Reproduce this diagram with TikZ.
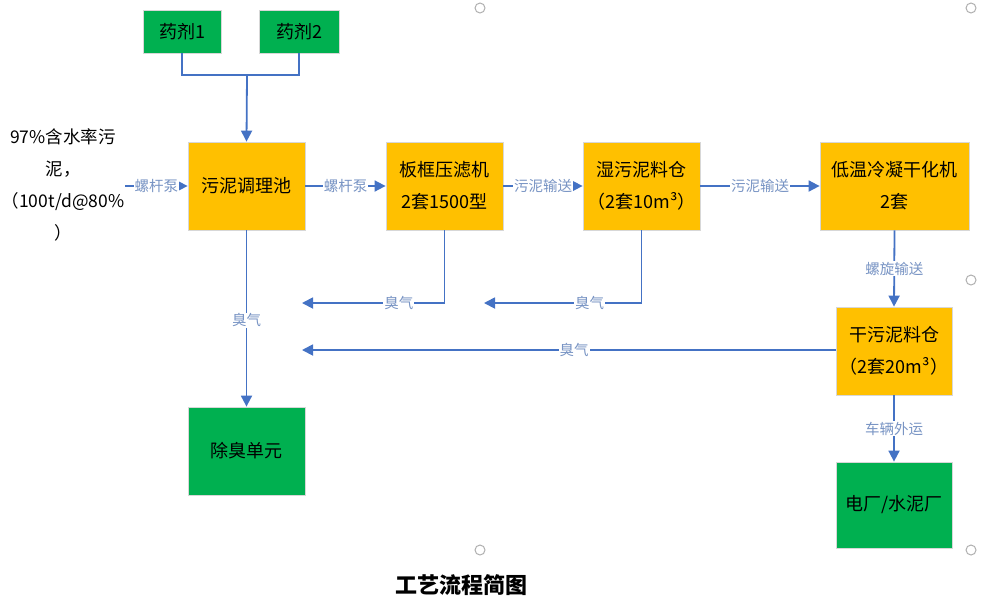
\documentclass[tikz,border=0pt]{standalone}
\usepackage{fontspec}
\setmainfont{Noto Sans CJK SC}
\usetikzlibrary{arrows.meta}
\definecolor{boxorange}{RGB}{255,192,0}
\definecolor{boxgreen}{RGB}{0,176,80}
\definecolor{linkblue}{RGB}{68,114,196}
\definecolor{lblblue}{RGB}{120,148,196}
\definecolor{edgegray}{RGB}{215,215,215}
\definecolor{handlegray}{RGB}{175,175,175}
\tikzset{
  basebox/.style={rectangle, draw=edgegray, line width=0.8pt, align=center, text=black,
    font=\fontsize{18}{32}\selectfont, inner sep=0pt},
  obox/.style={basebox, fill=boxorange},
  gbox/.style={basebox, fill=boxgreen},
  link/.style={draw=linkblue, line width=1.8pt},
  arr/.style={link, -{Triangle[length=11pt,width=11pt]}},
  lbl/.style={fill=white, text=lblblue, font=\fontsize{14.5}{16}\selectfont, inner sep=1pt},
  handle/.style={circle, draw=handlegray, line width=1pt, minimum size=10pt, inner sep=0pt},
}
\begin{document}
\begin{tikzpicture}[x=1pt,y=-1pt]
\useasboundingbox (0,0) rectangle (981,606);
% boxes
\node[gbox, minimum width=78pt, minimum height=43pt] (y1) at (182,31.5) {药剂1};
\node[gbox, minimum width=80pt, minimum height=43pt] (y2) at (299,31.5) {药剂2};
\node[obox, minimum width=117pt, minimum height=88pt] (tiao) at (246.5,186) {污泥调理池};
\node[obox, minimum width=117pt, minimum height=88pt] (bk) at (444.5,186) {板框压滤机\\2套1500型};
\node[obox, minimum width=117pt, minimum height=88pt] (shi) at (641.5,186) {湿污泥料仓\\（2套10m³）};
\node[obox, minimum width=149pt, minimum height=88pt] (dry) at (894.5,186) {低温冷凝干化机\\2套};
\node[obox, minimum width=116pt, minimum height=88pt] (gan) at (894,351) {干污泥料仓\\（2套20m³）};
\node[gbox, minimum width=117pt, minimum height=88pt] (chu) at (246.5,451) {除臭单元};
\node[gbox, minimum width=116pt, minimum height=86pt] (dc) at (894,505) {电厂/水泥厂};
% input text
\node[align=center, font=\fontsize{17.5}{32}\selectfont, inner sep=0pt] (src) at (63,185) {97\%含水率污\\泥，\\（100t/d@80\%\\）};
% coordinates
\coordinate (jn) at (247,75);
\coordinate (in) at (125,186);
\coordinate (o1) at (302,303);
\coordinate (o2) at (484,303);
\coordinate (o3) at (302,350);
% connectors
\draw[link] (y1.south) |- (jn) -| (y2.south);
\draw[arr] (jn) -- (tiao.north);
\draw[arr] (in) -- node[lbl]{螺杆泵} (tiao.west);
\draw[arr] (tiao.east) -- node[lbl]{螺杆泵} (bk.west);
\draw[arr] (bk.east) -- node[lbl]{污泥输送} (shi.west);
\draw[arr] (shi.east) -- node[lbl]{污泥输送} (dry.west);
\draw[arr] (tiao.south) -- node[lbl, pos=0.51]{臭气} (chu.north);
\draw[arr] (bk.south) -- (bk.south |- o1) -- node[lbl, pos=0.32]{臭气} (o1);
\draw[arr] (shi.south) -- (shi.south |- o2) -- node[lbl, pos=0.33]{臭气} (o2);
\draw[arr] (gan.west |- o3) -- node[lbl, pos=0.49]{臭气} (o3);
\draw[arr] (dry.south) -- node[lbl]{螺旋输送} (gan.north);
\draw[arr] (gan.south) -- node[lbl]{车辆外运} (dc.north);
% title
\node[font=\fontsize{22}{24}\selectfont\bfseries] (title) at (461,585) {工艺流程简图};
% selection handles
\node[handle] (h1) at (480,8) {};
\node[handle] (h2) at (971,8) {};
\node[handle] (h3) at (971,280) {};
\node[handle] (h4) at (480,550) {};
\node[handle] (h5) at (971,550) {};
\end{tikzpicture}
\end{document}
